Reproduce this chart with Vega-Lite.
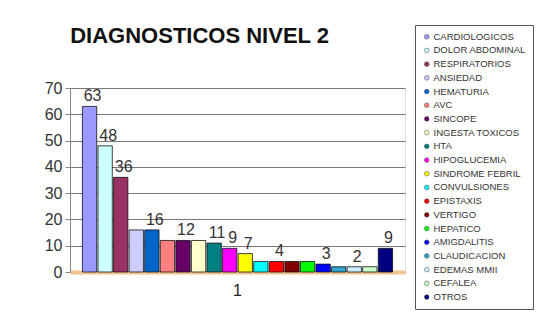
{
  "$schema": "https://vega.github.io/schema/vega-lite/v6.json",
  "width": 335,
  "height": 184,
  "autosize": "none",
  "padding": {"left": 70, "top": 88, "right": 143, "bottom": 44},
  "background": "white",
  "title": {"text": "DIAGNOSTICOS NIVEL 2", "anchor": "start", "fontSize": 22, "font": "Liberation Sans", "fontWeight": "bold", "color": "#111", "offset": -23, "dx": 26},
  "data": {"values": [
    {"g": "1", "diag": "CARDIOLOGICOS", "n": 63},
    {"g": "1", "diag": "DOLOR ABDOMINAL", "n": 48},
    {"g": "1", "diag": "RESPIRATORIOS", "n": 36},
    {"g": "1", "diag": "ANSIEDAD", "n": 16},
    {"g": "1", "diag": "HEMATURIA", "n": 16},
    {"g": "1", "diag": "AVC", "n": 12},
    {"g": "1", "diag": "SINCOPE", "n": 12},
    {"g": "1", "diag": "INGESTA TOXICOS", "n": 12},
    {"g": "1", "diag": "HTA", "n": 11},
    {"g": "1", "diag": "HIPOGLUCEMIA", "n": 9},
    {"g": "1", "diag": "SINDROME FEBRIL", "n": 7},
    {"g": "1", "diag": "CONVULSIONES", "n": 4},
    {"g": "1", "diag": "EPISTAXIS", "n": 4},
    {"g": "1", "diag": "VERTIGO", "n": 4},
    {"g": "1", "diag": "HEPATICO", "n": 4},
    {"g": "1", "diag": "AMIGDALITIS", "n": 3},
    {"g": "1", "diag": "CLAUDICACION", "n": 2},
    {"g": "1", "diag": "EDEMAS MMII", "n": 2},
    {"g": "1", "diag": "CEFALEA", "n": 2},
    {"g": "1", "diag": "OTROS", "n": 9}
  ]},
  "encoding": {
    "x": {"field": "g", "type": "nominal", "scale": {"paddingInner": 0, "paddingOuter": 0.04},
      "axis": {"title": null, "labelAngle": 0, "labelFontSize": 16, "labelFont": "Liberation Sans", "labelColor": "#222", "labelPadding": 10, "ticks": false, "domainColor": "#f2c491", "domainWidth": 4}},
    "xOffset": {"field": "diag", "type": "nominal", "sort": null, "scale": {"paddingInner": 0.08, "paddingOuter": 0}},
    "y": {"field": "n", "type": "quantitative", "scale": {"domain": [0, 70]},
      "axis": {"title": null, "values": [0,10,20,30,40,50,60,70], "labelOverlap": false, "labelFontSize": 16, "labelFont": "Liberation Sans", "labelColor": "#333", "gridColor": "#777", "gridWidth": 1, "domainColor": "#888", "tickColor": "#888", "tickSize": 5, "labelPadding": 3}}
  },
  "layer": [
    {
      "mark": {"type": "bar", "stroke": "#111", "strokeWidth": 0.8},
      "encoding": {
        "color": {"field": "diag", "type": "nominal", "sort": null,
          "scale": {
            "domain": ["CARDIOLOGICOS", "DOLOR ABDOMINAL", "RESPIRATORIOS", "ANSIEDAD", "HEMATURIA", "AVC", "SINCOPE", "INGESTA TOXICOS", "HTA", "HIPOGLUCEMIA", "SINDROME FEBRIL", "CONVULSIONES", "EPISTAXIS", "VERTIGO", "HEPATICO", "AMIGDALITIS", "CLAUDICACION", "EDEMAS MMII", "CEFALEA", "OTROS"],
            "range": ["#9999FF", "#CCFFFF", "#993366", "#CCCCFF", "#0066CC", "#FF8080", "#660066", "#FFFFCC", "#008080", "#FF00FF", "#FFFF00", "#00FFFF", "#FF0000", "#800000", "#00FF00", "#0000FF", "#33A6CC", "#CCEEFF", "#CCFFCC", "#000080"]
          },
          "legend": {"orient": "none", "legendX": 345, "legendY": -63, "title": null, "symbolType": "circle", "symbolSize": 22, "symbolStrokeColor": "#444", "symbolStrokeWidth": 0.5, "labelFontSize": 9.5, "labelFont": "Liberation Sans", "labelColor": "#333", "rowPadding": 2.7, "padding": 7, "strokeColor": "#555", "fillColor": "white", "labelLimit": 140, "labelOffset": 2}
        }
      }
    },
    {
      "transform": [{"filter": {"field": "diag", "oneOf": ["CARDIOLOGICOS", "DOLOR ABDOMINAL", "RESPIRATORIOS", "HEMATURIA", "SINCOPE", "HTA", "HIPOGLUCEMIA", "SINDROME FEBRIL", "EPISTAXIS", "AMIGDALITIS", "EDEMAS MMII", "OTROS"]}}],
      "mark": {"type": "text", "baseline": "bottom", "dy": -2, "dx": 3, "fontSize": 16, "font": "Liberation Sans", "color": "#333"},
      "encoding": {"text": {"field": "n", "type": "quantitative"}}
    }
  ]
}
